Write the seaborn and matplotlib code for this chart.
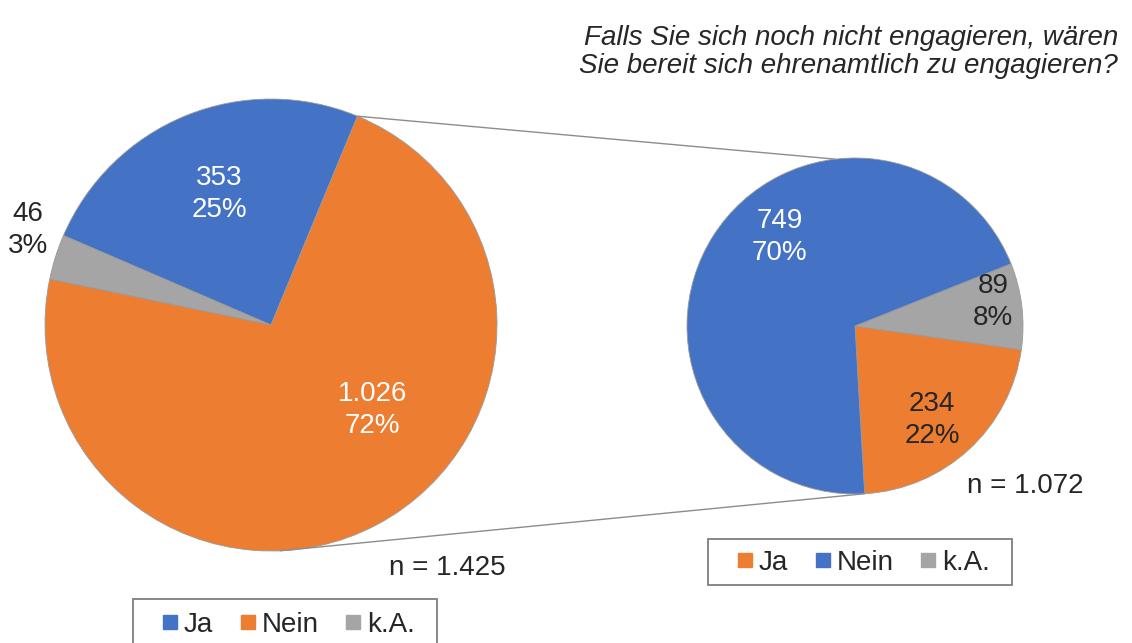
import numpy as np
import matplotlib
matplotlib.use("Agg")
import matplotlib.pyplot as plt
import seaborn as sns
from matplotlib.patches import ConnectionPatch, Rectangle
from matplotlib.lines import Line2D

# ---------------- data ----------------
categories = ["Ja", "Nein", "k.A."]
left_values = [353, 1026, 46]          # Engagieren Sie sich ehrenamtlich?
right_values = [234, 749, 89]          # Falls nicht: wären Sie bereit?
left_n_label = "n = 1.425"
right_n_label = "n = 1.072"
title_text = "Falls Sie sich noch nicht engagieren, wären\nSie bereit sich ehrenamtlich zu engagieren?"

sns.set_theme(style="white")
plt.rcParams['font.family'] = ['Liberation Sans', 'DejaVu Sans']

BLUE = "#4472C4"
ORANGE = "#ED7D31"
GRAY = "#A5A5A5"
DARK = "#262626"
left_colors = {"Ja": BLUE, "Nein": ORANGE, "k.A.": GRAY}
right_colors = {"Ja": ORANGE, "Nein": BLUE, "k.A.": GRAY}

W, H = 1132, 643
fig = plt.figure(figsize=(W / 100, H / 100), dpi=100)
fig.patch.set_facecolor("white")


def pie_axes(cx, cy, r):
    return fig.add_axes([(cx - r) / W, (H - cy - r) / H, 2 * r / W, 2 * r / H])


def fmt_num(v):
    return f"{v:,}".replace(",", ".")


plot_order = ["Ja", "k.A.", "Nein"]   # counter-clockwise drawing order


def draw_pie(ax, values, colors, startangle):
    vals = dict(zip(categories, values))
    wedges, _ = ax.pie([vals[c] for c in plot_order],
                       colors=[colors[c] for c in plot_order],
                       startangle=startangle, counterclock=True, radius=1,
                       wedgeprops=dict(edgecolor="#9a9a9a", linewidth=0.6))
    ax.set_xlim(-1, 1)
    ax.set_ylim(-1, 1)
    ax.set_aspect("equal")
    ax.axis("off")
    return dict(zip(plot_order, wedges)), vals


axL = pie_axes(271, 325, 226)
axR = pie_axes(855, 326, 168)
wL, valsL = draw_pie(axL, left_values, left_colors, 67.5)
wR, valsR = draw_pie(axR, right_values, right_colors, -86.7)

totL = sum(left_values)
totR = sum(right_values)

label_pos_L = {"Ja": ((-0.23, 0.58), "white"),
               "Nein": ((0.45, -0.378), "white"),
               "k.A.": ((-1.075, 0.42), DARK)}
label_pos_R = {"Nein": ((-0.45, 0.53), "white"),
               "k.A.": ((0.82, 0.143), DARK),
               "Ja": ((0.46, -0.56), DARK)}

for ax, vals, tot, pos in [(axL, valsL, totL, label_pos_L), (axR, valsR, totR, label_pos_R)]:
    for c in categories:
        (x, y), col = pos[c]
        ax.text(x, y, f"{fmt_num(vals[c])}\n{round(100 * vals[c] / tot)}%",
                ha="center", va="center", fontsize=20, color=col,
                linespacing=1.3, clip_on=False)


def pt(theta):
    t = np.deg2rad(theta)
    return (np.cos(t), np.sin(t))


# connector lines
top_L = wL["Ja"].theta1
bot_R = wR["Ja"].theta1
for (aL, aR) in [(top_L, 96.7), (-87.7, bot_R)]:
    con = ConnectionPatch(xyA=pt(aL), coordsA=axL.transData,
                          xyB=pt(aR), coordsB=axR.transData,
                          color="#8c8c8c", lw=1.0)
    fig.add_artist(con)

# n labels
fig.text(447 / W, 1 - 568 / H, left_n_label, ha="center", va="center", fontsize=20, color=DARK)
fig.text(1025 / W, 1 - 486 / H, right_n_label, ha="center", va="center", fontsize=20, color=DARK)

# title
fig.text(1118 / W, 1 - 52 / H, title_text, ha="right", va="center", fontsize=20,
         style="italic", color=DARK, linespacing=1.06)


def make_legend(colors, cx, cy, box):
    handles = [Line2D([], [], marker="s", linestyle="none", markersize=10.5,
                      markerfacecolor=colors[c], markeredgecolor=colors[c]) for c in categories]
    leg = fig.legend(handles, categories, loc="center", bbox_to_anchor=(cx / W, 1 - cy / H),
                     ncol=3, fontsize=20, frameon=False,
                     handlelength=0.5, handletextpad=0.25, columnspacing=1.0,
                     borderpad=0.3, borderaxespad=0)
    for t in leg.get_texts():
        t.set_color(DARK)
    x0, y0, x1, y1 = box
    fig.add_artist(Rectangle((x0 / W, 1 - y1 / H), (x1 - x0) / W, (y1 - y0) / H,
                             transform=fig.transFigure, fill=False,
                             edgecolor="#7f7f7f", linewidth=1.3))
    return leg


make_legend(left_colors, 289, 625, (133, 599, 437, 646))
make_legend(right_colors, 864, 563, (708, 539, 1012, 585))

fig.savefig("out.png", dpi=100, facecolor="white")
